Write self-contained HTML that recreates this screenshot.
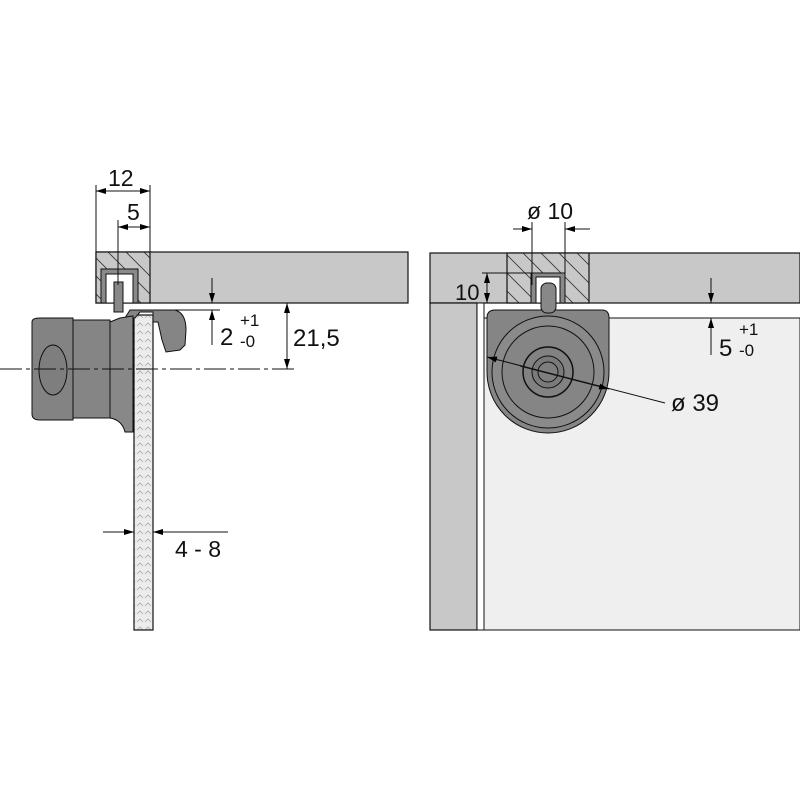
<!DOCTYPE html>
<html><head><meta charset="utf-8"><style>
html,body{margin:0;padding:0;background:#fff;width:800px;height:800px;overflow:hidden}
text{font-family:"Liberation Sans",sans-serif;fill:#111}
</style></head><body>
<svg width="800" height="800" viewBox="0 0 800 800" xmlns="http://www.w3.org/2000/svg">
<defs>
<marker id="a" viewBox="0 0 10 6" refX="10" refY="3" markerWidth="10" markerHeight="6" orient="auto-start-reverse" markerUnits="userSpaceOnUse"><path d="M0,0L10,3L0,6z" fill="#000"/></marker>
<pattern id="h" width="18" height="18" patternUnits="userSpaceOnUse"><rect width="18" height="18" fill="#c8c8c8"/><path d="M0,0L18,18M-9,9L9,27M9,-9L27,9" stroke="#333" stroke-width="0.8"/></pattern>
<pattern id="g" width="8" height="8" patternUnits="userSpaceOnUse"><rect width="8" height="8" fill="#ececec"/><path d="M1,6L4,3L7,6" stroke="#aaa" stroke-width="0.8" fill="none"/></pattern>
</defs>
<!-- LEFT -->
<rect x="96" y="252" width="312" height="51" fill="#c8c8c8" stroke="#111" stroke-width="1.2"/>
<rect x="96" y="252" width="54" height="51" fill="url(#h)" stroke="#111" stroke-width="1.2"/>
<rect x="101" y="269" width="37" height="34" fill="#8a8a8a" stroke="#111"/>
<rect x="106" y="274" width="27" height="29" fill="#fff" stroke="#111"/>
<rect x="114" y="282" width="9" height="30" fill="#888" stroke="#111"/>
<rect x="134" y="315" width="19" height="315" fill="url(#g)" stroke="#111" stroke-width="1.2"/>
<path d="M125,318 L130,310 L175,310 Q186,313 186,330 L185,345 L180,350 L166,352 L162,340 L158,322 L153,322 L153,312 L140,312 L135,318 Z" fill="#858585" stroke="#111"/>
<path d="M32,322 Q32,318 40,318 L73,318 L73,420 L40,420 Q32,420 32,414 Z" fill="#838383" stroke="#111"/>
<rect x="73" y="320" width="37" height="98" fill="#858585" stroke="#111"/>
<path d="M110,322 L120,318 L133,316 L133,432 L125,432 Q122,420 110,418 Z" fill="#888" stroke="#111"/>
<ellipse cx="53" cy="370" rx="14" ry="25" fill="#7e7e7e" stroke="#111"/>
<line x1="0" y1="369" x2="295" y2="369" stroke="#111" stroke-dasharray="22,4,4,4"/>
<!-- dims left -->
<g stroke="#111" stroke-width="1" fill="none">
<line x1="96" y1="185" x2="96" y2="252"/><line x1="150" y1="185" x2="150" y2="252"/>
<line x1="96" y1="191" x2="150" y2="191" marker-start="url(#a)" marker-end="url(#a)"/>
<line x1="118" y1="220" x2="118" y2="285"/>
<line x1="118" y1="227" x2="150" y2="227" marker-start="url(#a)" marker-end="url(#a)"/>
<line x1="212" y1="278" x2="212" y2="303" marker-end="url(#a)"/>
<line x1="212" y1="345" x2="212" y2="310" marker-end="url(#a)"/>
<line x1="150" y1="310" x2="220" y2="310"/>
<line x1="287" y1="336" x2="287" y2="303" marker-end="url(#a)"/>
<line x1="287" y1="336" x2="287" y2="369" marker-end="url(#a)"/>
<line x1="103" y1="532" x2="134" y2="532" marker-end="url(#a)"/>
<line x1="228" y1="532" x2="153" y2="532" marker-end="url(#a)"/>
</g>
<text x="108" y="186" font-size="23">12</text>
<text x="127" y="220" font-size="23">5</text>
<text x="220" y="345" font-size="24">2</text>
<text x="240" y="326" font-size="17">+1</text>
<text x="240" y="347" font-size="17">-0</text>
<text x="293" y="346" font-size="24">21,5</text>
<text x="175" y="557" font-size="23">4 - 8</text>
<!-- RIGHT -->
<rect x="430" y="253" width="370" height="50" fill="#c8c8c8" stroke="#111" stroke-width="1.2"/>
<rect x="430" y="303" width="47" height="327" fill="#c8c8c8" stroke="#111" stroke-width="1.2"/>
<rect x="484" y="318" width="316" height="312" fill="#efefef" stroke="#111"/>
<rect x="477" y="303" width="7" height="327" fill="#fff" stroke="#111"/>
<rect x="507" y="253" width="82" height="50" fill="url(#h)" stroke="#111" stroke-width="1.2"/>
<rect x="531" y="273" width="34" height="30" fill="#8a8a8a" stroke="#111"/>
<rect x="536" y="277" width="24" height="26" fill="#fff" stroke="#111"/>
<path d="M487,318 Q487,310 495,310 L602,310 Q609,310 609,318 L609,372 A61,61 0 0 1 487,372 Z" fill="#858585" stroke="#111"/>
<rect x="541" y="283" width="15" height="30" rx="6" fill="#888" stroke="#111"/>
<circle cx="548" cy="372" r="56" fill="#8a8a8a" stroke="#111"/>
<circle cx="548" cy="372" r="46" fill="#858585" stroke="#111"/>
<circle cx="548" cy="372" r="25" fill="#828282" stroke="#111" stroke-width="1.5"/>
<circle cx="548" cy="372" r="16" fill="#7a7a7a" stroke="#111"/>
<circle cx="548" cy="372" r="10" fill="#7e7e7e" stroke="#111"/>
<g stroke="#111" stroke-width="1" fill="none">
<line x1="532" y1="222" x2="532" y2="285"/><line x1="565" y1="222" x2="565" y2="285"/>
<line x1="513" y1="229" x2="532" y2="229" marker-end="url(#a)"/>
<line x1="590" y1="229" x2="565" y2="229" marker-end="url(#a)"/>
<line x1="482" y1="273" x2="531" y2="273"/>
<line x1="487" y1="288" x2="487" y2="273" marker-end="url(#a)"/>
<line x1="487" y1="288" x2="487" y2="303" marker-end="url(#a)"/>
<line x1="711" y1="278" x2="711" y2="303" marker-end="url(#a)"/>
<line x1="711" y1="355" x2="711" y2="318" marker-end="url(#a)"/>
<line x1="665" y1="403" x2="487" y2="357" marker-end="url(#a)"/>
<line x1="520" y1="366" x2="609" y2="389" marker-end="url(#a)"/>
</g>
<text x="527" y="219" font-size="23">ø 10</text>
<text x="455" y="300" font-size="22">10</text>
<text x="719" y="356" font-size="24">5</text>
<text x="739" y="335" font-size="17">+1</text>
<text x="739" y="356" font-size="17">-0</text>
<text x="671" y="411" font-size="24">ø 39</text>
</svg>
</body></html>
